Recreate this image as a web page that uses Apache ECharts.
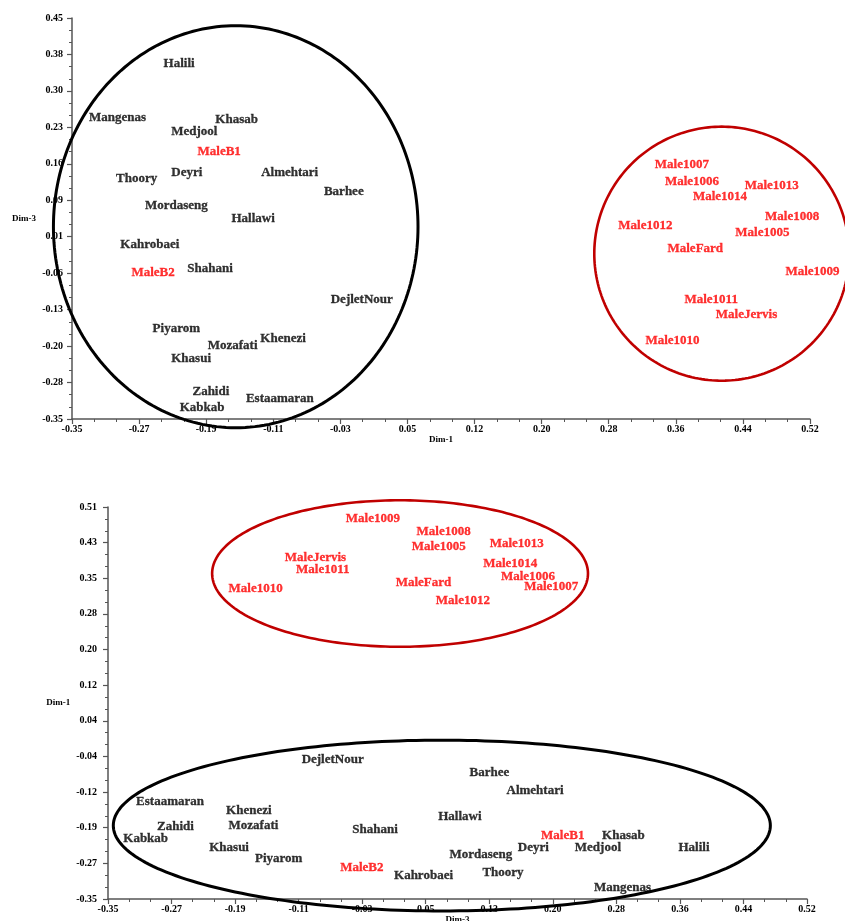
<!DOCTYPE html>
<html>
<head>
<meta charset="utf-8">
<script src="https://cdn.jsdelivr.net/npm/echarts@6/dist/echarts.min.js"></script>
<style>
  html, body { margin: 0; padding: 0; background: #ffffff; }
  #chart { width: 845px; height: 921px; }
</style>
</head>
<body>
<div id="chart"></div>
<script>
// Date palm cultivars and males, ordination scores (label anchors)
const cultivars = ['Halili','Mangenas','Khasab','Medjool','MaleB1','Thoory','Deyri','Almehtari','Barhee','Mordaseng',
  'Hallawi','Kahrobaei','MaleB2','Shahani','DejletNour','Piyarom','Khenezi','Mozafati','Khasui','Zahidi',
  'Estaamaran','Kabkab','Male1007','Male1006','Male1013','Male1014','Male1008','Male1012','Male1005','MaleFard',
  'Male1009','Male1011','MaleJervis','Male1010'];

// Upper panel: Dim-1 (x) against Dim-3 (y)
const upperDim1 = [-0.242,-0.330,-0.181,-0.233,-0.202,-0.298,-0.233,-0.127,-0.053,-0.264,
  -0.162,-0.293,-0.280,-0.214,-0.045,-0.255,-0.128,-0.190,-0.233,-0.208,
  -0.145,-0.223,0.337,0.349,0.443,0.382,0.467,0.294,0.432,0.352,
  0.491,0.372,0.409,0.326];
const upperDim3 = [0.360,0.254,0.249,0.225,0.185,0.132,0.144,0.144,0.106,0.078,
  0.051,-0.001,-0.056,-0.048,-0.110,-0.167,-0.187,-0.202,-0.228,-0.293,
  -0.308,-0.326,0.159,0.125,0.117,0.096,0.056,0.038,0.024,-0.008,
  -0.054,-0.109,-0.139,-0.192];

// Lower panel: Dim-3 (x) against Dim-1 (y)
const lowerDim3 = [0.360,0.255,0.265,0.231,0.189,0.116,0.160,0.146,0.100,0.075,
  0.061,0.006,-0.061,-0.046,-0.109,-0.167,-0.203,-0.200,-0.224,-0.289,
  -0.315,-0.331,0.168,0.139,0.125,0.117,0.034,0.058,0.028,0.008,
  -0.054,-0.116,-0.130,-0.200];
const lowerDim1 = [-0.236,-0.323,-0.209,-0.236,-0.209,-0.289,-0.236,-0.111,-0.070,-0.251,
  -0.167,-0.297,-0.278,-0.196,-0.043,-0.260,-0.153,-0.186,-0.236,-0.189,
  -0.135,-0.215,0.338,0.360,0.431,0.388,0.459,0.306,0.426,0.346,
  0.487,0.374,0.401,0.333];

// Axis ranges and tick labels
const upperXRange = [-0.35, 0.52];
const upperYRange = [-0.35, 0.45];
const lowerXRange = [-0.35, 0.52];
const lowerYRange = [-0.35, 0.51];
const upperXTicks = ['-0.35','-0.27','-0.19','-0.11','-0.03','0.05','0.12','0.20','0.28','0.36','0.44','0.52'];
const upperYTicks = ['-0.35','-0.28','-0.20','-0.13','-0.06','0.01','0.09','0.16','0.23','0.30','0.38','0.45'];
const lowerXTicks = ['-0.35','-0.27','-0.19','-0.11','-0.03','0.05','0.13','0.20','0.28','0.36','0.44','0.52'];
const lowerYTicks = ['-0.35','-0.27','-0.19','-0.12','-0.04','0.04','0.12','0.20','0.28','0.35','0.43','0.51'];

// Group ellipses in data units: [centre x, centre y, radius x, radius y]
const upperEllipses = [[-0.157, 0.0336, 0.2149, 0.401], [0.4159, -0.0202, 0.1502, 0.2534]];
const lowerEllipses = [[0.0655, -0.1889, 0.4089, 0.1874], [0.0135, 0.364, 0.2339, 0.1607]];
const ellipseColors = ['#000000', '#c00000'];

const SERIF = '"Liberation Serif", "Times New Roman", serif';
const AXIS_COLOR = '#555555';
const TEXT_DARK = '#000000';
const MALE_RED = '#ff0000';

function tickValues(range, labels) {
  const n = labels.length - 1;
  const step = (range[1] - range[0]) / n;
  const clampRound = v => Math.min(range[1], Math.max(range[0], Number(v.toFixed(10))));
  const major = [], minor = [];
  for (let i = 0; i <= n; i++) major.push(i === n ? range[1] : clampRound(range[0] + i * step));
  for (let j = 0; j < n * 3; j++) if (j % 3) minor.push(clampRound(range[0] + j * step / 3));
  return { major, minor, step };
}

function makeAxes(gridIndex, range, labels, position, margin, name, nameGap) {
  const t = tickValues(range, labels);
  const main = {
    type: 'value', gridIndex, min: range[0], max: range[1], position,
    name, nameLocation: 'middle', nameGap, nameRotate: 0,
    nameTextStyle: { fontFamily: SERIF, fontWeight: 'bold', fontSize: 9, color: TEXT_DARK },
    axisLine: { show: true, onZero: false, lineStyle: { color: AXIS_COLOR, width: 1.5 } },
    axisTick: { show: true, customValues: t.major, length: 5, lineStyle: { color: AXIS_COLOR, width: 1.2 } },
    axisLabel: {
      show: true, customValues: t.major, margin, showMinLabel: true, showMaxLabel: true,
      formatter: v => labels[Math.round((v - range[0]) / t.step)],
      fontFamily: SERIF, fontWeight: 'bold', fontSize: 10, color: TEXT_DARK
    },
    splitLine: { show: false }
  };
  const minorAxis = {
    type: 'value', gridIndex, min: range[0], max: range[1], position,
    axisLine: { show: false, onZero: false },
    axisTick: { show: true, customValues: t.minor, length: 3, lineStyle: { color: AXIS_COLOR, width: 1 } },
    axisLabel: { show: false },
    splitLine: { show: false }
  };
  return [main, minorAxis];
}

function labelSeries(axisIndex, xs, ys) {
  return {
    type: 'scatter', xAxisIndex: axisIndex, yAxisIndex: axisIndex, silent: true,
    symbolSize: 0,
    label: {
      show: true, position: 'right', distance: 0, offset: [0, 1], formatter: '{b}',
      fontFamily: SERIF, fontWeight: 'bold', fontSize: 13, textBorderWidth: 0.3
    },
    data: cultivars.map((n, i) => {
      const c = n.indexOf('Male') === 0 ? MALE_RED : TEXT_DARK;
      return { name: n, value: [xs[i], ys[i]], label: { color: c, textBorderColor: c } };
    }),
    z: 5
  };
}

function ellipseSeries(axisIndex, shapes) {
  return {
    type: 'custom', xAxisIndex: axisIndex, yAxisIndex: axisIndex, silent: true, clip: false,
    data: shapes, encode: { x: 0, y: 1 },
    renderItem(params, api) {
      const cx = api.value(0), cy = api.value(1), rx = api.value(2), ry = api.value(3);
      const pts = [];
      for (let k = 0; k < 240; k++) {
        const a = 2 * Math.PI * k / 240;
        pts.push(api.coord([cx + rx * Math.cos(a), cy + ry * Math.sin(a)]));
      }
      return {
        type: 'polygon', shape: { points: pts },
        style: { fill: 'none', stroke: ellipseColors[params.dataIndex], lineWidth: params.dataIndex === 0 ? 3 : 2.6 }
      };
    },
    z: 4
  };
}

const upperX = makeAxes(0, upperXRange, upperXTicks, 'bottom', 5, 'Dim-1', 16);
const lowerX = makeAxes(1, lowerXRange, lowerXTicks, 'bottom', 5, 'Dim-3', 14);
const upperY = makeAxes(0, upperYRange, upperYTicks, 'left', 9, 'Dim-3', 36);
const lowerY = makeAxes(1, lowerYRange, lowerYTicks, 'left', 11, 'Dim-1', 35);

const chart = echarts.init(document.getElementById('chart'), null, { renderer: 'canvas' });
chart.setOption({
  animation: false,
  backgroundColor: '#ffffff',
  grid: [
    { left: 72, top: 18, width: 738, height: 401, outerBoundsMode: 'none', containLabel: false },
    { left: 108, top: 507, width: 699, height: 392, outerBoundsMode: 'none', containLabel: false }
  ],
  xAxis: [upperX[0], upperX[1], lowerX[0], lowerX[1]],
  yAxis: [upperY[0], upperY[1], lowerY[0], lowerY[1]],
  series: [
    ellipseSeries(0, upperEllipses),
    labelSeries(0, upperDim1, upperDim3),
    ellipseSeries(2, lowerEllipses),
    labelSeries(2, lowerDim3, lowerDim1)
  ]
});
</script>
</body>
</html>
